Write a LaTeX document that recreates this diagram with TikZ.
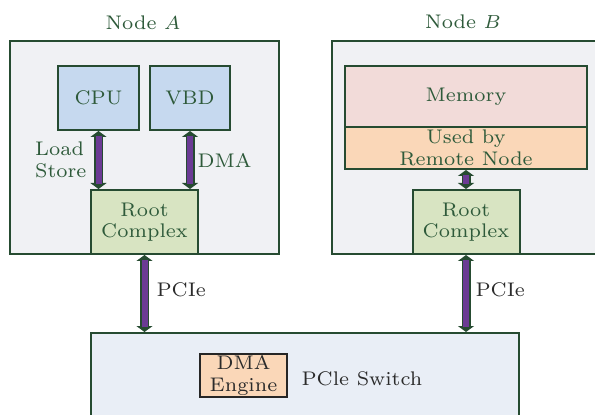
\documentclass[tikz,border=0pt]{standalone}
\usetikzlibrary{arrows.meta}
% one drawing unit = one pixel of the 595 x 415 layout
\newcommand*\pxu{0.37pt}
\definecolor{linegreen}{HTML}{264B31}
\definecolor{txtgreen}{HTML}{2E5A3A}
\definecolor{hostfill}{HTML}{F0F1F4}
\definecolor{cpufill}{HTML}{C6D9EF}
\definecolor{rcfill}{HTML}{D8E4C2}
\definecolor{memfill}{HTML}{F2DBD9}
\definecolor{usedfill}{HTML}{FAD7B8}
\definecolor{switchfill}{HTML}{E9EEF6}
\definecolor{arrowpurple}{HTML}{6B3B94}
\definecolor{darktext}{HTML}{2B2B2B}
\begin{document}
\begin{tikzpicture}[x=\pxu, y=-\pxu,
  font=\fontsize{7.3}{7.9}\selectfont,
  sz/.style 2 args={minimum width=#1*\pxu, minimum height=#2*\pxu},
  box/.style={draw=linegreen, line width=2*\pxu, inner sep=0pt,
    text=txtgreen, align=center},
  host/.style={box, fill=hostfill},
  unit/.style={box, fill=cpufill},
  rc/.style={box, fill=rcfill},
  lbl/.style={text=txtgreen, inner sep=0pt, align=left},
  blk/.style={text=darktext, inner sep=0pt, align=left},
  tip/.tip={Triangle[width=16*\pxu, length=6*\pxu]},
  link/.style={draw=linegreen, line width=9*\pxu, {tip}-{tip},
    postaction={draw=arrowpurple, line width=6*\pxu, arrows=-,
      shorten <=5*\pxu, shorten >=5*\pxu}}
]
\useasboundingbox (0,0) rectangle (595,415);
\clip (0,0) rectangle (595,415);

% Node A
\node[host, sz={269}{213}] (hostA) at (144.5,147.5) {};
\node[lbl] (titleA) at (143,23) {Node $A$};
\node[unit, sz={81}{64}] (cpu) at (98.5,98) {CPU};
\node[unit, sz={80}{64}] (vbd) at (190,98) {VBD};
\node[rc, sz={107}{64}] (rcA) at (144.5,222) {Root\\Complex};
\coordinate (cpuIn) at (cpu.south |- rcA.north);
\coordinate (vbdIn) at (vbd.south |- rcA.north);
\draw[link] (cpu.south) -- (cpuIn);
\draw[link] (vbd.south) -- (vbdIn);
\node[lbl, anchor=east] (ldst) at (87,160) {Load\\Store};
\node[lbl, anchor=west] (dmalbl) at (197,160) {DMA};

% Node B
\node[host, sz={278}{213}] (hostB) at (471,147.5) {};
\node[lbl] (titleB) at (463,22) {Node $B$};
\node[box, fill=memfill, sz={242}{61}] (mem) at (466,96.5) {Memory};
\node[box, fill=usedfill, sz={242}{42}] (used) at (466,148) {Used by\\Remote Node};
\node[rc, sz={107}{64}] (rcB) at (466,222) {Root\\Complex};
\draw[link] (used.south) -- (rcB.north);

% PCIe switch
\node[box, fill=switchfill, sz={428}{92}] (switch) at (305,379) {};
\node[box, fill=usedfill, draw=black!85, text=darktext, sz={87}{43}] (dmaeng) at (243.5,375.5) {DMA\\Engine};
\node[blk, anchor=west] (swlbl) at (301,379) {PCle Switch};
\coordinate (swA) at (rcA.south |- switch.north);
\coordinate (swB) at (rcB.south |- switch.north);
\draw[link] (rcA.south) -- (swA);
\draw[link] (rcB.south) -- (swB);
\node[blk, anchor=west] (pcieA) at (156,290) {PCIe};
\node[blk, anchor=west] (pcieB) at (475,290) {PCIe};
\end{tikzpicture}
\end{document}
